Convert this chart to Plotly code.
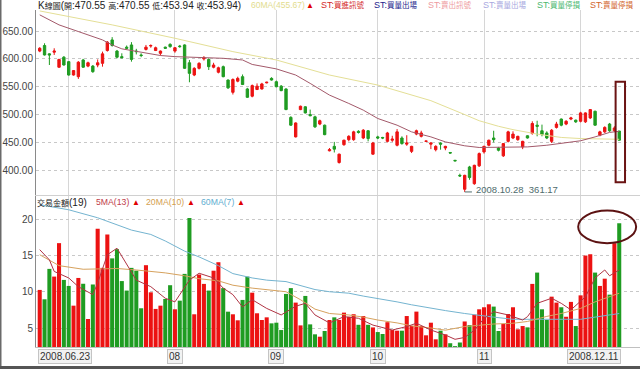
import plotly.graph_objects as go
import pandas as pd

# ---------------- data ----------------
holidays = ["2008-07-28", "2008-09-29", "2008-10-10"]
dates = [d.strftime("%Y-%m-%d") for d in pd.bdate_range("2008-06-23", "2008-12-11")
         if d.strftime("%Y-%m-%d") not in holidays]

opens = [614, 624, 609, 612, 585, 603, 595, 571, 568, 598, 587, 587, 589, 592, 615, 634, 614, 604, 621, 625,
         614, 607, 617, 623, 615, 610, 621, 626, 614, 623, 625, 593, 571, 583, 600, 599, 585, 576, 586, 562,
         540, 560, 568, 546, 533, 545, 546, 557, 565, 559, 551, 546, 495, 460, 509, 514, 500, 496, 483, 481,
         435, 443, 414, 446, 455, 455, 470, 458, 471, 429, 460, 459, 452, 454, 445, 458, 447, 434, 465, 461,
         452, 447, 437, 449, 440, 432, 418, 391, 366, 406, 376, 408, 433, 445, 458, 440, 426, 452, 458, 455,
         442, 462, 466, 481, 471, 467, 452, 477, 492, 483, 492, 490, 488, 487, 494, 506, 463, 469, 483, 471,
         470.55]
highs = [621, 628, 610, 619, 600, 605, 596, 580, 596, 600, 595, 589, 599, 613, 632, 639, 616, 610, 624, 630,
         618, 610, 625, 626, 622, 615, 622, 628, 621, 625, 626, 598, 585, 594, 605, 601, 593, 586, 588, 563,
         565, 568, 572, 548, 554, 556, 557, 559, 567, 561, 553, 547, 497, 486, 516, 515, 509, 498, 491, 482,
         440, 451, 430, 455, 463, 471, 472, 474, 472, 451, 462, 460, 469, 462, 474, 461, 463, 444, 473, 471,
         453, 450, 445, 450, 444, 432.5, 418.5, 394, 392, 408, 410, 432, 444, 455, 471, 442, 449, 471, 470, 462,
         453, 463, 488, 489, 482, 470, 474, 487, 493, 490, 496, 491, 505, 504, 510, 507, 471, 479, 485, 479,
         470.55]
lows = [612, 606, 589, 607, 584, 588, 570, 570, 564, 584, 585, 575, 585, 586, 613, 622, 601, 601, 617, 595,
        608, 603, 615, 620, 614, 606, 618, 620, 611, 620, 582, 558, 569, 581, 597, 580, 583, 574, 567, 546,
        536, 558, 553, 530, 531, 544, 545, 556, 561, 549, 542, 508, 480, 459, 508, 502, 497, 476, 481, 463,
        434, 432, 412, 444, 452, 453, 466, 456, 452, 428, 456, 456, 450, 451, 443, 446, 444, 431, 463, 459,
        451, 438, 434, 437, 436, 430, 416, 388, 361.17, 383, 374, 406, 430, 443, 450, 434, 424, 450, 456, 453,
        438, 457, 464, 461, 461, 456, 449, 475, 479, 481, 490, 485, 486, 485, 492, 480, 461, 467, 469, 469,
        453.94]
closes = [619, 607, 607, 614, 599, 589, 571, 579, 594, 585, 593, 577, 593, 609, 630, 624, 603, 602, 619, 599,
          613, 606, 621, 624, 620, 614, 619, 622, 620, 622, 583, 574, 583, 592, 602, 586, 589, 584, 568, 548,
          563, 565, 554, 531, 552, 551, 555, 558, 562, 550, 543, 509, 481, 485, 515, 503, 498, 478, 489, 464,
          437, 438, 429, 454, 461, 469, 468, 472, 457, 449, 458, 458, 467, 456, 469, 448, 449, 443, 471, 467,
          452.5, 449, 443, 447, 443, 431, 417, 390, 391, 387, 409, 430, 443, 454, 455, 436, 448, 469, 465, 461,
          452, 458, 484, 479, 464, 458, 472, 483, 481, 488, 494, 487, 503, 503, 509, 481, 469, 477, 471, 476,
          453.94]

volume = [10.25, 8.96, 13.15, 12.09, 16.7, 11.63, 10.8, 8.08, 11.9, 11.1,
          6.24, 11.0, 18.67, 13.29, 17.9, 14.6, 15.87, 11.47, 10.16, 13.29,
          12.9, 7.72, 13.66, 9.92, 7.63, 8.08, 9.0, 10.9, 7.58, 8.77,
          12.46, 20.15, 6.89, 12.37, 11.08, 10.16, 12.9, 14.07, 10.5, 7.25,
          6.89, 6.06, 8.87, 12.09, 9.87, 7.03, 6.1, 6.47, 5.64, 5.73,
          4.72, 9.7, 10.5, 8.5, 5.36, 9.42, 5.5, 4.13, 3.8, 4.59,
          6.1, 6.47, 6.1, 7.12, 6.55, 6.9, 5.44, 6.65, 5.44, 5.08,
          4.44, 4.17, 5.8, 4.72, 4.63, 4.63, 6.65, 5.27, 7.26, 5.27,
          3.99, 5.73, 3.44, 4.63, 4.13, 2.9, 2.5, 3.0, 5.9, 5.4,
          6.84, 7.58, 7.86, 8.27, 7.95, 4.59, 5.55, 6.93, 7.86, 4.82,
          5.27, 5.09, 11.08, 12.64, 7.58, 6.1, 9.32, 8.5, 7.86, 6.55,
          8.6, 5.27, 9.5, 14.99, 15.17, 12.64, 10.8, 11.8, 9.6, 16.7, 19.45]

# moving-average lines (bar index, value)
price_ma_a_idx = [0, 4, 8, 13, 15, 17, 21, 25, 28, 31, 35, 38, 42, 44, 49, 53, 56, 59, 60, 64, 67, 70, 74, 77,
                  81, 84, 88, 91, 95, 98, 101, 105, 108, 112, 115, 118, 120]
price_ma_a = [679, 661, 649, 634, 625, 618, 612, 606, 604, 603, 601, 601, 598, 590, 582, 571, 556, 541, 535, 520,
              508, 493, 481, 469, 460, 451, 444, 441, 441, 441, 442, 445, 448, 453, 460, 468, 470]
price_ma60_idx = [0, 10, 15, 28, 40, 49, 54, 60, 70, 81, 88, 91, 95, 98, 103, 108, 112, 116, 120]
price_ma60 = [686, 670, 661, 637, 613, 598, 586, 571, 553, 525, 500, 489, 479, 473, 465, 459, 457, 456, 455.67]

vol_ma5_idx = [0, 2, 3, 6, 8, 11, 12, 14, 16, 18, 20, 23, 26, 28, 31, 33, 36, 38, 40, 42, 44, 47, 50, 53, 55,
               57, 60, 63, 66, 69, 73, 76, 78, 81, 84, 86, 88, 90, 92, 94, 97, 100, 101, 103, 106, 108, 110, 113,
               115, 117, 118, 119, 120]
vol_ma5 = [15.8, 14.4, 12.8, 11.9, 10.7, 9.6, 11.2, 15.1, 16.0, 13.7, 11.6, 10.7, 9.1, 8.6, 11.6, 12.55, 11.9, 10.5,
           9.6, 7.9, 8.9, 7.7, 6.8, 8.0, 8.4, 6.8, 5.7, 6.56, 6.34, 5.4, 4.72, 5.2, 5.65, 4.72, 4.03, 3.44, 3.7,
           4.7, 6.3, 7.25, 6.8, 6.1, 6.56, 8.4, 9.1, 8.4, 7.5, 9.3, 11.9, 13.0, 12.2, 12.6, 13.0]
vol_ma20_idx = [0, 2, 4, 9, 16, 20, 23, 26, 30, 33, 37, 40, 44, 47, 51, 54, 57, 60, 64, 67, 70, 74, 77, 81, 84,
                88, 91, 94, 98, 101, 105, 108, 112, 115, 120]
vol_ma20 = [15.1, 14.4, 13.6, 13.1, 13.2, 13.0, 12.8, 12.6, 12.2, 11.8, 11.5, 10.9, 10.5, 10.25, 10.0, 8.9, 7.6,
            7.0, 6.8, 6.5, 6.1, 5.7, 5.3, 5.0, 4.7, 5.2, 5.4, 5.55, 5.65, 5.9, 6.6, 7.0, 7.7, 8.6, 9.8]
vol_ma60_idx = [0, 6, 12, 16, 19, 23, 26, 30, 33, 37, 40, 44, 47, 51, 54, 57, 60, 64, 67, 70, 74, 77, 81, 84,
                88, 91, 94, 98, 101, 108, 112, 115, 119, 120]
vol_ma60 = [22.0, 21.3, 20.2, 19.2, 18.5, 17.9, 17.0, 15.6, 14.8, 13.6, 12.5, 11.9, 11.6, 11.4, 10.9, 10.3, 10.0,
            9.8, 9.4, 9.1, 8.6, 8.2, 7.7, 7.4, 7.0, 6.8, 6.5, 6.2, 6.2, 6.2, 6.2, 6.5, 6.9, 7.0]

price_ticks = [400, 450, 500, 550, 600, 650]
vol_ticks = [5, 10, 15, 20]

# ---------------- styling ----------------
RED = "#ec1212"
GREEN = "#1f9c22"
FONT = "Liberation Sans, Noto Sans CJK TC, sans-serif"
L, R, T, B = 36, 0, 10, 22
W, H = 640, 369
PW, PH = W - L - R, H - T - B


def px_x(px):
    return (px - L) / PW


def px_y(py):
    return (H - B - py) / PH


def cjk(s, size=8):
    out = ""
    for ch in s:
        if ord(ch) >= 0x2E80:
            out += '<span style="font-size:%spx">%s</span>' % (size, ch)
        else:
            out += ch
    return out


fig = go.Figure()

fig.add_trace(go.Candlestick(
    x=dates, open=opens, high=highs, low=lows, close=closes, xaxis="x", yaxis="y",
    increasing=dict(line=dict(color=RED, width=1), fillcolor=RED),
    decreasing=dict(line=dict(color=GREEN, width=1), fillcolor=GREEN),
    whiskerwidth=0, hoverinfo="skip", showlegend=False))

fig.add_trace(go.Scatter(x=[dates[i] for i in price_ma60_idx], y=price_ma60, mode="lines",
                         line=dict(color="#e4df96", width=1), xaxis="x", yaxis="y",
                         hoverinfo="skip", showlegend=False))
fig.add_trace(go.Scatter(x=[dates[i] for i in price_ma_a_idx], y=price_ma_a, mode="lines",
                         line=dict(color="#a3596a", width=1), xaxis="x", yaxis="y",
                         hoverinfo="skip", showlegend=False))

bar_colors = [RED if c >= o else GREEN for o, c in zip(opens, closes)]
fig.add_trace(go.Bar(x=dates, y=volume, marker=dict(color=bar_colors, line=dict(width=0)),
                     xaxis="x2", yaxis="y2", hoverinfo="skip", showlegend=False))

fig.add_trace(go.Scatter(x=[dates[i] for i in vol_ma60_idx], y=vol_ma60, mode="lines",
                         line=dict(color="#74b4d0", width=1), xaxis="x2", yaxis="y2",
                         hoverinfo="skip", showlegend=False))
fig.add_trace(go.Scatter(x=[dates[i] for i in vol_ma20_idx], y=vol_ma20, mode="lines",
                         line=dict(color="#d6a25e", width=1), xaxis="x2", yaxis="y2",
                         hoverinfo="skip", showlegend=False))
fig.add_trace(go.Scatter(x=[dates[i] for i in vol_ma5_idx], y=vol_ma5, mode="lines",
                         line=dict(color="#b03444", width=1), xaxis="x2", yaxis="y2",
                         hoverinfo="skip", showlegend=False))

month_first = []
for i, d in enumerate(dates):
    if i > 0 and d[5:7] != dates[i - 1][5:7]:
        month_first.append(d)

xrange_ = [-0.77, 124.3]
upper_bottom = px_y(195)
lower_top = px_y(196)

common_x = dict(type="category", categoryorder="array", categoryarray=dates, range=xrange_,
                tickvals=month_first, showticklabels=False, showgrid=True, gridcolor="#d6d6d6",
                gridwidth=1, zeroline=False, ticks="", fixedrange=True, automargin=False)

fig.update_layout(
    width=W, height=H, margin=dict(l=L, r=R, t=T, b=B, pad=0, autoexpand=False),
    paper_bgcolor="white", plot_bgcolor="white", showlegend=False, bargap=0.16,
    font=dict(family=FONT, size=10, color="#444"),
    xaxis=dict(common_x, domain=[0, 1], anchor="y", rangeslider=dict(visible=False),
               showline=True, linecolor="#d0d0d0", linewidth=1),
    yaxis=dict(domain=[upper_bottom, 1], anchor="x", range=[355.7, 687.7], tickvals=price_ticks,
               ticktext=["%.2f" % v for v in price_ticks], showgrid=True, gridcolor="#c8c8c8",
               griddash="dot", zeroline=False, showline=True, linecolor="#8a8a8a", ticks="",
               automargin=False, fixedrange=True, tickfont=dict(family=FONT, size=10, color="#444")),
    xaxis2=dict(common_x, domain=[0, 1], anchor="y2", showline=True, linecolor="#c0c0c0", linewidth=1),
    yaxis2=dict(domain=[0, lower_top], anchor="x2", range=[2.38, 23.2], tickvals=vol_ticks,
                showgrid=True, gridcolor="#c8c8c8", griddash="dot", zeroline=False, showline=True,
                linecolor="#8a8a8a", ticks="", automargin=False, fixedrange=True,
                tickfont=dict(family=FONT, size=10, color="#444")),
)

ann = []


def label(text, px, py, color, size=10):
    ann.append(dict(text=text, x=px_x(px), y=px_y(py), xref="paper", yref="paper", xanchor="left",
                    yanchor="middle", showarrow=False, font=dict(family=FONT, size=size, color=color)))


top_text = "K線圖(開:%.2f 高:%.2f 低:%.2f 收:%.2f)" % (opens[-1], highs[-1], lows[-1], closes[-1])
label(cjk(top_text), 36, 5, "#222")
label("60MA(%.2f)" % price_ma60[-1], 249, 5, "#e2dc8e", 8.5)
label("▲", 304, 5, "#e00000", 8)
st_items = [("ST:買進訊號", 319, "#d42a2a"), ("ST:買量出場", 372, "#1c1c8c"), ("ST:賣出訊號", 426, "#ee9aa0"),
            ("ST:賣量出場", 481, "#a8a8e0"), ("ST:買量停損", 535, "#4cb870"), ("ST:賣量停損", 588, "#d2642c")]
for t, x, c in st_items:
    label(cjk(t, 7.5), x, 5, c, 9)

label(cjk("交易金額(%d)" % int(volume[-1])), 35, 202, "#222")
label("5MA(%d)" % round(vol_ma5[-1]), 94, 202, "#c0404c", 8.7)
label("▲", 130, 202, "#e00000", 8)
label("20MA(%d)" % round(vol_ma20[-1]), 144, 202, "#d4a050", 8.7)
label("▲", 185, 202, "#e00000", 8)
label("60MA(%d)" % round(vol_ma60[-1]), 199, 202, "#62aed0", 8.7)
label("▲", 235, 202, "#e00000", 8)

# low marker text
low_i = lows.index(min(lows))
ann.append(dict(text="%s\u00a0\u00a0%.2f" % (dates[low_i].replace("-", "."), lows[low_i]),
                x=dates[low_i], y=lows[low_i], xref="x", yref="y", xanchor="left", yanchor="middle",
                xshift=9, yshift=2, showarrow=False, font=dict(family=FONT, size=9.5, color="#4e6c6c")))

# x axis labels
axis_lbl = dict(xref="x2", yref="paper", y=px_y(357), yanchor="middle", showarrow=False,
                bgcolor="#f2f2f2", bordercolor="#c4c4c4", borderwidth=1, borderpad=1,
                font=dict(family=FONT, size=10, color="#333"))
ann.append(dict(axis_lbl, text=dates[0].replace("-", "."), x=dates[0], xanchor="left", xshift=-2))
ann.append(dict(axis_lbl, text=dates[-1].replace("-", "."), x=dates[-1], xanchor="right", xshift=2))
for d in month_first[1:-1]:
    ann.append(dict(axis_lbl, text=d[5:7], x=d, xanchor="center"))

fig.update_layout(annotations=ann)

n = len(dates) - 1
shapes = [
    dict(type="line", xref="x", yref="y", x0=low_i, x1=low_i + 1.5, y0=lows[low_i], y1=lows[low_i],
         line=dict(color="#4e6c6c", width=1)),
    dict(type="rect", xref="x", yref="y", x0=n - 0.75, x1=n + 1.2, y0=378.5, y1=559,
         line=dict(color="#6b1414", width=2)),
    dict(type="circle", xref="x2", yref="y2", x0=n - 8.5, x1=n + 3.5, y0=16.7, y1=21.2,
         line=dict(color="#5c1212", width=2)),
    dict(type="rect", xref="paper", yref="paper", x0=px_x(0), x1=px_x(1.5), y0=px_y(369), y1=px_y(0),
         line=dict(width=0), fillcolor="#6a6a6a"),
    dict(type="rect", xref="paper", yref="paper", x0=px_x(0), x1=px_x(640), y0=px_y(369), y1=px_y(366),
         line=dict(width=0), fillcolor="#555555"),
]
fig.update_layout(shapes=shapes)

fig.write_html("out.html", config={"displayModeBar": False, "staticPlot": True},
               post_script="document.body.style.margin='0';document.body.style.overflow='hidden';")
